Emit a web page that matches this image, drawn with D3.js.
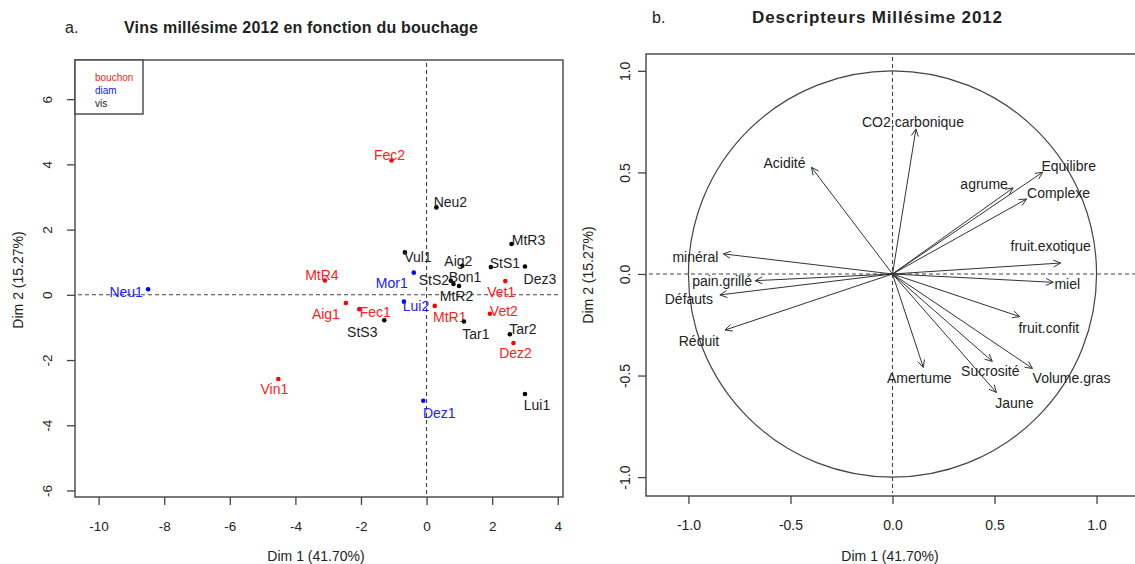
<!DOCTYPE html>
<html>
<head>
<meta charset="utf-8">
<script src="https://cdn.jsdelivr.net/npm/d3@7"></script>
<style>
  body { margin: 0; background: #fff; }
  svg { display: block; }
  text { font-family: "Liberation Sans", Arial, sans-serif; }
</style>
</head>
<body>
<svg id="chart" width="1135" height="564"></svg>
<script>
// ---------------- Panel a : individuals (wines) ----------------
const wines   = ["Fec2","Neu2","MtR3","Vul1","Aig2","StS1","Dez3","Mor1","MtR4","StS2","MtR2","Bon1","Vet1",
                 "Lui2","Aig1","Fec1","MtR1","Vet2","StS3","Tar1","Tar2","Dez2","Neu1","Vin1","Lui1","Dez1"];
const wineDim1 = [-1.07, 0.30, 2.59, -0.66, 1.09, 1.96, 3.00, -0.39, -3.10, 0.74, 0.82, 0.99, 2.40,
                  -0.69, -2.46, -2.05, 0.25, 1.93, -1.29, 1.14, 2.54, 2.65, -8.49, -4.52, 3.00, -0.10];
const wineDim2 = [4.12, 2.68, 1.56, 1.30, 0.89, 0.85, 0.87, 0.68, 0.44, 0.43, 0.33, 0.27, 0.42,
                  -0.21, -0.25, -0.44, -0.34, -0.58, -0.78, -0.82, -1.21, -1.48, 0.17, -2.58, -3.04, -3.25];
const wineClosure = ["bouchon","vis","vis","vis","vis","vis","vis","diam","bouchon","vis","vis","vis","bouchon",
                     "diam","bouchon","bouchon","bouchon","bouchon","vis","vis","vis","bouchon","diam","bouchon","vis","diam"];
const closureTypes  = ["bouchon","diam","vis"];
const closureColors = ["#ff0000","#0000ff","#000000"];
const closureTextColors = ["#ff2020","#2020ff","#222222"];
const xTicksA = [-10,-8,-6,-4,-2,0,2,4];
const yTicksA = [-6,-4,-2,0,2,4,6];
const xTickLabelsA = ["-10","-8","-6","-4","-2","0","2","4"];
const yTickLabelsA = ["-6","-4","-2","0","2","4","6"];
// label placement (pixel offsets of label centre from point) – layout only
const wineLabelOffset = [[-2,-5],[14,-5],[17,-4],[13,5],[-4,-5],[14,-4],[15,13],[-22,10],[-3,-5],[-17,-1],[3,12],[6,-9],[-4,11],
                         [12,4],[-20,11],[16,3],[15,11],[14,-3],[-22,12],[12,12],[13,-5],[2,10],[-22,3],[-4,10],[12,11],[16,12]];

// ---------------- Panel b : variables (descriptors) ----------------
const descriptors = ["CO2.carbonique","Acidité","Equilibre","agrume","Complexe","fruit.exotique","miel","fruit.confit",
                     "Volume.gras","Sucrosité","Jaune","Amertume","minéral","pain.grillé","Défauts","Réduit"];
const varDim1 = [0.115, -0.397, 0.736, 0.591, 0.657, 0.824, 0.788, 0.624, 0.686, 0.489, 0.509, 0.151, -0.829, -0.673, -0.846, -0.821];
const varDim2 = [0.714, 0.525, 0.501, 0.424, 0.369, 0.054, -0.041, -0.210, -0.465, -0.430, -0.583, -0.460, 0.099, -0.033, -0.103, -0.276];
const varLabelOffset = [[-3,-7],[-27,-4],[26,-6],[-29,-4],[32,-6],[-10,-17],[14,2],[29,11],
                        [39,10],[-2,10],[18,11],[-4,11],[-28,3],[-33,0],[-31,4],[-26,11]];
const ticksB = [-1, -0.5, 0, 0.5, 1];
const tickLabelsB = ["-1.0","-0.5","0.0","0.5","1.0"];

const svg = d3.select("#chart");
svg.append("rect").attr("width",1135).attr("height",564).attr("fill","#fff");

const boxColor = "#444";
const txtColor = "#222";

// ================= PANEL A =================
const xA = d3.scaleLinear().domain([-10.72, 4.16]).range([75, 563]);
const yA = d3.scaleLinear().domain([-6.2, 7.2]).range([497, 60]);

const gA = svg.append("g");

// axes
const axA_x = gA.append("g").attr("transform","translate(0,497)")
  .call(d3.axisBottom(xA).tickValues(xTicksA).tickSize(8).tickSizeOuter(0)
        .tickFormat((d,i)=>xTickLabelsA[i]));
const axA_y = gA.append("g").attr("transform","translate(75,0)")
  .call(d3.axisLeft(yA).tickValues(yTicksA).tickSize(8).tickSizeOuter(0)
        .tickFormat((d,i)=>yTickLabelsA[i]));
[axA_x, axA_y].forEach(a => {
  a.select(".domain").remove();
  a.selectAll("line").attr("stroke", boxColor).attr("stroke-width",1.3);
  a.selectAll("text").attr("fill", txtColor).style("font-size","13.5px")
   .style("font-family",'"Liberation Sans", Arial, sans-serif');
});
axA_x.selectAll("text").attr("dy", null).attr("y", 33.5);
axA_y.selectAll("text").attr("x", null).attr("dy", null).attr("text-anchor","middle")
  .attr("transform","translate(-23,0) rotate(-90)");

// reference lines
gA.append("line").attr("x1",xA(0)).attr("x2",xA(0)).attr("y1",yA.range()[1]+3).attr("y2",yA.range()[0]-3)
  .attr("stroke","#444").attr("stroke-width",1.1).attr("stroke-dasharray","4,3");
gA.append("line").attr("y1",yA(0)).attr("y2",yA(0)).attr("x1",xA.range()[0]+3).attr("x2",xA.range()[1]-3)
  .attr("stroke","#444").attr("stroke-width",1.1).attr("stroke-dasharray","4,3");

// box
gA.append("rect").attr("x",75).attr("y",60).attr("width",563-75).attr("height",497-60)
  .attr("fill","none").attr("stroke",boxColor).attr("stroke-width",1.4);

// points & labels
const colorOf = c => closureColors[closureTypes.indexOf(c)];
const tcolorOf = c => closureTextColors[closureTypes.indexOf(c)];
wines.forEach((w,i) => {
  const px = xA(wineDim1[i]), py = yA(wineDim2[i]);
  gA.append("circle").attr("cx",px).attr("cy",py).attr("r",2.3).attr("fill",colorOf(wineClosure[i]));
  gA.append("text").attr("x",px+wineLabelOffset[i][0]).attr("y",py+wineLabelOffset[i][1])
    .attr("dy","0.36em").attr("text-anchor","middle").attr("fill",tcolorOf(wineClosure[i]))
    .style("font-size","14px").text(w);
});

// legend
gA.append("rect").attr("x",75).attr("y",60).attr("width",68).attr("height",54)
  .attr("fill","#fff").attr("stroke",boxColor).attr("stroke-width",1.4);
closureTypes.forEach((c,i) => {
  gA.append("text").attr("x",95).attr("y",81 + i*13).attr("fill",closureTextColors[i])
    .style("font-size","10px").text(c);
});

// titles
gA.append("text").attr("x",65).attr("y",33).attr("fill",txtColor).style("font-size","16px").text("a.");
gA.append("text").attr("x",124).attr("y",33).attr("fill",txtColor).style("font-size","16px")
  .style("font-weight","bold").attr("textLength",354).attr("lengthAdjust","spacing")
  .text("Vins millésime 2012 en fonction du bouchage");
gA.append("text").attr("x",316).attr("y",561).attr("text-anchor","middle").attr("fill",txtColor)
  .style("font-size","14px").text("Dim 1 (41.70%)");
gA.append("text").attr("transform","translate(23,280) rotate(-90)").attr("text-anchor","middle")
  .attr("fill",txtColor).style("font-size","14px").text("Dim 2 (15.27%)");

// ================= PANEL B =================
const xB = d3.scaleLinear().domain([-1.208, 1.208]).range([646, 1139]);
const yB = d3.scaleLinear().domain([-1.093, 1.083]).range([496, 54]);
const gB = svg.append("g");

const axB_x = gB.append("g").attr("transform","translate(0,496)")
  .call(d3.axisBottom(xB).tickValues(ticksB).tickSize(8).tickSizeOuter(0)
        .tickFormat((d,i)=>tickLabelsB[i]));
const axB_y = gB.append("g").attr("transform","translate(646,0)")
  .call(d3.axisLeft(yB).tickValues(ticksB).tickSize(8).tickSizeOuter(0)
        .tickFormat((d,i)=>tickLabelsB[i]));
[axB_x, axB_y].forEach(a => {
  a.select(".domain").remove();
  a.selectAll("line").attr("stroke", boxColor).attr("stroke-width",1.3);
  a.selectAll("text").attr("fill", txtColor).style("font-size","14px")
   .style("font-family",'"Liberation Sans", Arial, sans-serif');
});
axB_x.selectAll("text").attr("dy", null).attr("y", 34);
axB_y.selectAll("text").attr("x", null).attr("dy", null).attr("text-anchor","middle")
  .attr("transform","translate(-16,0) rotate(-90)");

// dashed reference lines
gB.append("line").attr("x1",xB(0)).attr("x2",xB(0)).attr("y1",57).attr("y2",493)
  .attr("stroke","#444").attr("stroke-width",1.1).attr("stroke-dasharray","4,3");
gB.append("line").attr("y1",yB(0)).attr("y2",yB(0)).attr("x1",649).attr("x2",1135)
  .attr("stroke","#444").attr("stroke-width",1.1).attr("stroke-dasharray","4,3");

// box
gB.append("rect").attr("x",646).attr("y",54).attr("width",1139-646).attr("height",496-54)
  .attr("fill","none").attr("stroke",boxColor).attr("stroke-width",1.4);

// unit circle
gB.append("ellipse").attr("cx",xB(0)).attr("cy",yB(0))
  .attr("rx",xB(1)-xB(0)).attr("ry",yB(0)-yB(1))
  .attr("fill","none").attr("stroke","#444").attr("stroke-width",1.2);

// arrows
const headLen = 8, headAng = Math.PI/7;
descriptors.forEach((d,i) => {
  const x1 = xB(0), y1 = yB(0), x2 = xB(varDim1[i]), y2 = yB(varDim2[i]);
  const a = Math.atan2(y2-y1, x2-x1);
  gB.append("line").attr("x1",x1).attr("y1",y1).attr("x2",x2).attr("y2",y2)
    .attr("stroke","#333").attr("stroke-width",1);
  const b1 = [x2 - headLen*Math.cos(a-headAng), y2 - headLen*Math.sin(a-headAng)];
  const b2 = [x2 - headLen*Math.cos(a+headAng), y2 - headLen*Math.sin(a+headAng)];
  gB.append("path").attr("d",`M${b1[0]},${b1[1]}L${x2},${y2}L${b2[0]},${b2[1]}`)
    .attr("fill","none").attr("stroke","#333").attr("stroke-width",1);
  gB.append("text").attr("x",x2+varLabelOffset[i][0]).attr("y",y2+varLabelOffset[i][1])
    .attr("dy","0.36em").attr("text-anchor","middle").attr("fill",txtColor)
    .style("font-size","14px").text(d);
});

// titles
gB.append("text").attr("x",652).attr("y",23).attr("fill",txtColor).style("font-size","16px").text("b.");
gB.append("text").attr("x",752).attr("y",23).attr("fill",txtColor).style("font-size","17px")
  .style("font-weight","bold").attr("textLength",250).attr("lengthAdjust","spacing")
  .text("Descripteurs Millésime 2012");
gB.append("text").attr("x",890).attr("y",561).attr("text-anchor","middle").attr("fill",txtColor)
  .style("font-size","14px").text("Dim 1 (41.70%)");
gB.append("text").attr("transform","translate(593,275) rotate(-90)").attr("text-anchor","middle")
  .attr("fill",txtColor).style("font-size","14px").text("Dim 2 (15.27%)");
</script>
</body>
</html>
